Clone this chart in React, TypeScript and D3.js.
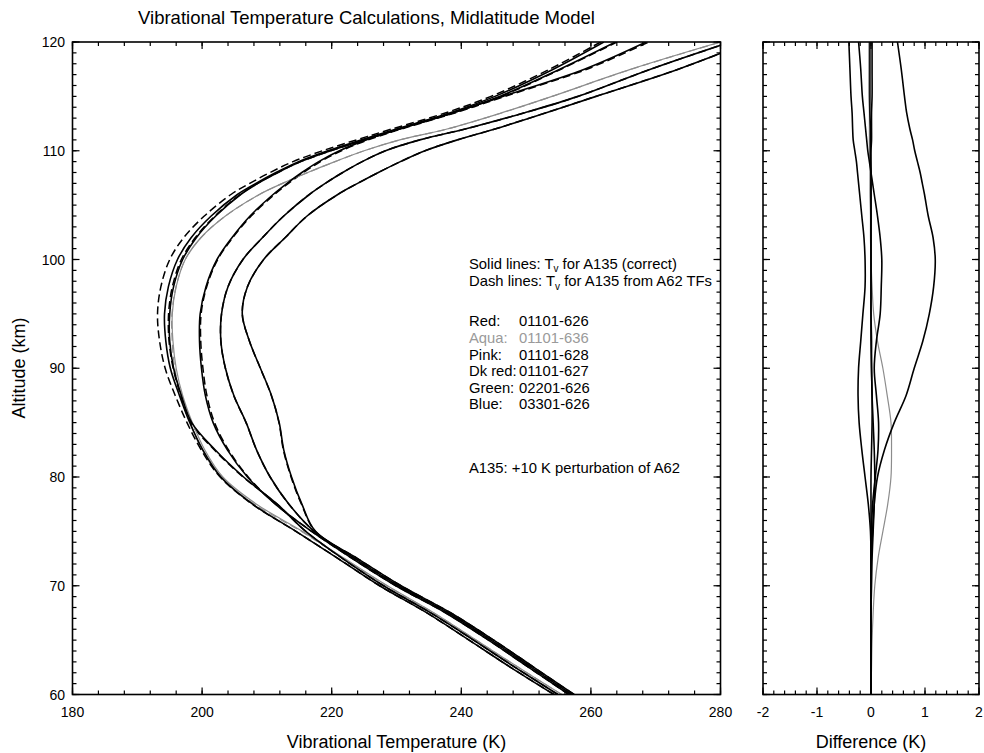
import React from "react";
import * as d3 from "d3";

// Altitude grid (km)
const ALT = [60, 62.5, 65, 67.5, 70, 72.5, 75, 77.5, 80, 82.5, 85, 87.5, 90, 92.5, 95, 97.5, 100, 102, 104, 106, 107, 108, 109, 110, 111, 112, 113.5, 115, 117.5, 120];

// Solid lines: Tv for A135 (K)
const TV_RED = [254.3, 247.6, 241.2, 234.7, 227.4, 221.0, 214.5, 207.8, 202.9, 200.1, 198.1, 196.5, 195.1, 194.4, 194.2, 194.8, 196.2, 198.3, 201.4, 205.5, 208.3, 211.4, 214.9, 219.4, 224.6, 230.0, 238.3, 245.2, 254.2, 262.0];
const TV_AQUA = [255.5, 248.8, 242.3, 235.8, 228.6, 222.0, 215.5, 208.4, 203.2, 200.4, 198.5, 197.0, 196.0, 195.5, 195.4, 196.0, 197.4, 199.8, 203.6, 208.9, 212.4, 216.3, 220.5, 225.0, 230.5, 237.8, 246.3, 254.0, 266.2, 280.0];
const TV_PINK = [254.9, 248.3, 241.9, 235.3, 228.0, 221.7, 216.0, 211.6, 206.4, 202.0, 198.4, 196.8, 195.6, 195.0, 195.0, 195.6, 197.0, 199.1, 202.1, 206.0, 208.6, 211.7, 215.2, 219.8, 225.0, 230.4, 238.7, 245.9, 255.2, 263.8];
const TV_DKRED = [256.6, 250.4, 244.2, 237.6, 229.9, 223.2, 216.9, 211.3, 207.0, 203.9, 201.7, 200.5, 199.9, 199.6, 199.7, 200.6, 202.3, 204.6, 207.4, 211.0, 213.1, 215.4, 218.0, 221.2, 225.3, 230.4, 238.8, 246.4, 259.0, 268.5];
const TV_GREEN = [257.0, 250.8, 244.6, 238.0, 230.3, 223.6, 217.3, 213.4, 210.5, 208.4, 206.8, 204.9, 203.6, 202.9, 203.0, 204.0, 206.3, 209.3, 212.6, 216.6, 219.0, 221.7, 224.7, 228.3, 233.6, 240.6, 249.8, 258.0, 269.2, 281.5];
const TV_BLUE = [257.4, 251.2, 245.0, 238.4, 230.7, 224.0, 217.5, 215.4, 213.8, 212.6, 211.9, 210.7, 209.0, 207.3, 206.2, 207.0, 209.5, 212.8, 216.2, 221.0, 224.0, 227.2, 230.6, 234.4, 239.4, 245.2, 253.1, 260.8, 273.5, 284.5];

// Difference (K): correct Tv minus Tv from A62 TFs
const DIFF_RED = [0, 0, 0, 0, 0, 0, 0.03, 0.06, 0.12, 0.25, 0.43, 0.65, 0.80, 0.96, 1.08, 1.16, 1.19, 1.15, 1.06, 0.99, 0.95, 0.91, 0.86, 0.81, 0.77, 0.72, 0.66, 0.62, 0.56, 0.49];
const DIFF_AQUA = [0, 0.01, 0.02, 0.04, 0.07, 0.13, 0.22, 0.31, 0.37, 0.38, 0.37, 0.30, 0.22, 0.12, 0.05, 0.02, 0, -0.01, -0.01, -0.02, -0.02, -0.02, -0.02, -0.03, -0.03, -0.03, -0.03, -0.04, -0.04, -0.04];
const DIFF_PINK = [0, 0, 0, 0, 0, 0, 0.01, 0.03, 0.08, 0.13, 0.14, 0.10, 0.06, 0.10, 0.17, 0.19, 0.20, 0.17, 0.12, 0.06, 0.03, 0.0, -0.03, -0.06, -0.08, -0.10, -0.13, -0.16, -0.19, -0.23];
const DIFF_DKRED = [0, 0, 0, 0, 0, 0, -0.01, -0.05, -0.11, -0.17, -0.22, -0.24, -0.23, -0.19, -0.15, -0.11, -0.11, -0.13, -0.17, -0.21, -0.23, -0.25, -0.27, -0.30, -0.33, -0.34, -0.35, -0.37, -0.39, -0.41];
const DIFF_GREEN = [0, 0, 0, 0, 0, 0, 0, 0, 0, 0.01, 0.02, 0.02, 0.01, 0.01, 0, 0, 0, 0, 0, 0, 0, 0, -0.01, -0.01, -0.01, -0.01, -0.02, -0.02, -0.02, -0.02];
const DIFF_BLUE = [0, 0, 0, 0, 0.01, 0.02, 0.04, 0.06, 0.07, 0.06, 0.04, 0.02, 0.01, 0, 0, 0, 0, 0, 0, 0, 0, 0, 0, 0, 0.01, 0.01, 0.01, 0.02, 0.02, 0.02];

// Tick labels
const TEMP_TICKS = [180, 200, 220, 240, 260, 280];
const ALT_TICKS = [60, 70, 80, 90, 100, 110, 120];
const DIFF_TICKS = [-2, -1, 0, 1, 2];

// Legend text
const LEGEND_NAMES = ["Red:", "Aqua:", "Pink:", "Dk red:", "Green:", "Blue:"];
const LEGEND_CODES = ["01101-626", "01101-636", "01101-628", "01101-627", "02201-626", "03301-626"];

const FONT = "'Liberation Sans', Arial, Helvetica, sans-serif";

const SERIES = [
  { tv: TV_AQUA, diff: DIFF_AQUA, stroke: "#8c8c8c", w: 1.2 },
  { tv: TV_RED, diff: DIFF_RED, stroke: "#000", w: 1.6 },
  { tv: TV_PINK, diff: DIFF_PINK, stroke: "#000", w: 1.6 },
  { tv: TV_DKRED, diff: DIFF_DKRED, stroke: "#000", w: 1.6 },
  { tv: TV_GREEN, diff: DIFF_GREEN, stroke: "#000", w: 1.6 },
  { tv: TV_BLUE, diff: DIFF_BLUE, stroke: "#000", w: 1.6 },
];

type Scale = d3.ScaleLinear<number, number>;

function frame(
  key: string,
  xs: Scale,
  ys: Scale,
  xMajor: number[],
  xMinor: number[],
  yMajor: number[],
  yMinor: number[]
) {
  const [x0, x1] = xs.range();
  const [y0, y1] = ys.range();
  const M = 7;
  const m = 4;
  const els: React.ReactNode[] = [];
  xMinor.forEach((v, i) => {
    const X = xs(v);
    els.push(<line key={`${key}xb${i}`} x1={X} x2={X} y1={y0} y2={y0 - m} />);
    els.push(<line key={`${key}xt${i}`} x1={X} x2={X} y1={y1} y2={y1 + m} />);
  });
  xMajor.forEach((v, i) => {
    const X = xs(v);
    els.push(<line key={`${key}Xb${i}`} x1={X} x2={X} y1={y0} y2={y0 - M} />);
    els.push(<line key={`${key}Xt${i}`} x1={X} x2={X} y1={y1} y2={y1 + M} />);
  });
  yMinor.forEach((v, i) => {
    const Y = ys(v);
    els.push(<line key={`${key}yl${i}`} x1={x0} x2={x0 + m} y1={Y} y2={Y} />);
    els.push(<line key={`${key}yr${i}`} x1={x1} x2={x1 - m} y1={Y} y2={Y} />);
  });
  yMajor.forEach((v, i) => {
    const Y = ys(v);
    els.push(<line key={`${key}Yl${i}`} x1={x0} x2={x0 + M} y1={Y} y2={Y} />);
    els.push(<line key={`${key}Yr${i}`} x1={x1} x2={x1 - M} y1={Y} y2={Y} />);
  });
  return (
    <g key={key} stroke="#000" strokeWidth={1.2}>
      {els}
      <rect x={x0} y={y1} width={x1 - x0} height={y0 - y1} fill="none" strokeWidth={1.6} />
    </g>
  );
}

export default function App() {
  const x = d3.scaleLinear().domain([180, 280]).range([72.5, 720.5]);
  const y = d3.scaleLinear().domain([60, 120]).range([694.5, 42]);
  const xd = d3.scaleLinear().domain([-2, 2]).range([763, 979]);

  const lineT = d3
    .line<number>()
    .x((v) => x(v))
    .y((_, i) => y(ALT[i]))
    .curve(d3.curveCatmullRom.alpha(0.5));
  const lineD = d3
    .line<number>()
    .x((v) => xd(v))
    .y((_, i) => y(ALT[i]))
    .curve(d3.curveCatmullRom.alpha(0.5));

  const tempMinor = d3.range(180, 280.001, 4);
  const altMinor = d3.range(60, 120.001, 1);
  const diffMinor = d3.range(-2, 2.001, 0.2);

  const legendX = 469;
  const codeX = 519;
  const legendY0 = 326.3;
  const legendStep = 16.6;

  return (
    <div style={{ position: "absolute", left: 0, top: 0 }}>
      <svg width={984} height={753} viewBox="0 0 984 753" style={{ display: "block", background: "#fff" }} fontFamily={FONT}>
        <defs>
          <clipPath id="clipL">
            <rect x={72.5} y={42} width={648} height={652.5} />
          </clipPath>
          <clipPath id="clipR">
            <rect x={763} y={42} width={216} height={652.5} />
          </clipPath>
        </defs>
        <rect x={0} y={0} width={984} height={753} fill="#fff" />

        <text x={366.5} y={24} textAnchor="middle" fontSize={18.5} fill="#000">
          Vibrational Temperature Calculations, Midlatitude Model
        </text>

        <g clipPath="url(#clipL)" fill="none">
          {SERIES.map((s, k) => (
            <path
              key={`dash${k}`}
              d={lineT(s.tv.map((v, i) => v - s.diff[i])) || ""}
              stroke={s.stroke}
              strokeWidth={s.w * 0.95}
              strokeDasharray="8,4"
            />
          ))}
          {SERIES.map((s, k) => (
            <path key={`sol${k}`} d={lineT(s.tv) || ""} stroke={s.stroke} strokeWidth={s.w} />
          ))}
        </g>

        <g clipPath="url(#clipR)" fill="none">
          {SERIES.map((s, k) => (
            <path key={`dif${k}`} d={lineD(s.diff) || ""} stroke={s.stroke} strokeWidth={s.w} />
          ))}
        </g>

        {frame("L", x, y, TEMP_TICKS, tempMinor, ALT_TICKS, altMinor)}
        {frame("R", xd, y, DIFF_TICKS, diffMinor, ALT_TICKS, altMinor)}

        <g fontSize={14} fill="#000">
          {ALT_TICKS.map((t) => (
            <text key={`ya${t}`} x={65} y={y(t) + 5} textAnchor="end">
              {t}
            </text>
          ))}
          {TEMP_TICKS.map((t) => (
            <text key={`xt${t}`} x={x(t)} y={717} textAnchor="middle">
              {t}
            </text>
          ))}
          {DIFF_TICKS.map((t) => (
            <text key={`xd${t}`} x={xd(t)} y={717} textAnchor="middle">
              {t}
            </text>
          ))}
        </g>

        <text x={396.5} y={748} textAnchor="middle" fontSize={18} fill="#000">
          Vibrational Temperature (K)
        </text>
        <text x={871} y={748} textAnchor="middle" fontSize={18} fill="#000">
          Difference (K)
        </text>
        <text transform="translate(24.5,368) rotate(-90)" textAnchor="middle" fontSize={18} fill="#000">
          Altitude (km)
        </text>

        <g fontSize={14.8} fill="#000">
          <text x={legendX} y={268.9}>
            Solid lines: T
            <tspan fontSize={10} dy={3.5}>v</tspan>
            <tspan dy={-3.5}> for A135 (correct)</tspan>
          </text>
          <text x={legendX} y={286.3}>
            Dash lines: T
            <tspan fontSize={10} dy={3.5}>v</tspan>
            <tspan dy={-3.5}> for A135 from A62 TFs</tspan>
          </text>
          {LEGEND_NAMES.map((n, i) => (
            <g key={`lg${i}`} fill={i === 1 ? "#9a9a9a" : "#000"}>
              <text x={legendX} y={legendY0 + i * legendStep}>
                {n}
              </text>
              <text x={codeX} y={legendY0 + i * legendStep}>
                {LEGEND_CODES[i]}
              </text>
            </g>
          ))}
          <text x={legendX} y={473.3}>
            A135: +10 K perturbation of A62
          </text>
        </g>
      </svg>
    </div>
  );
}
